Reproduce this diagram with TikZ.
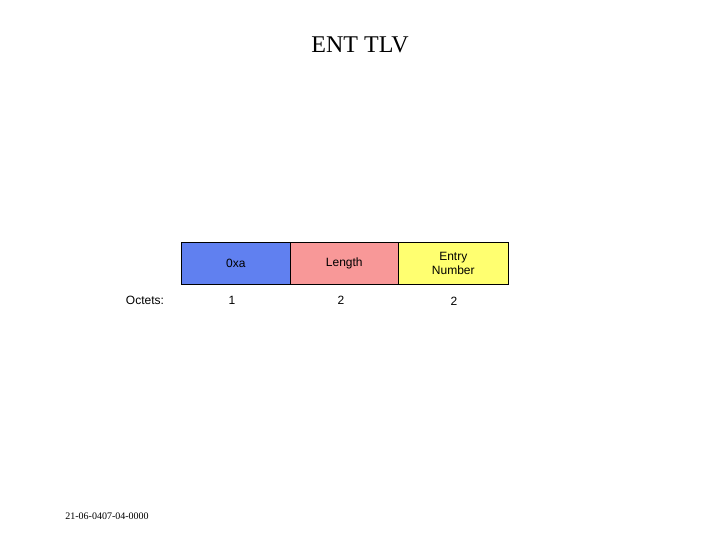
\documentclass[tikz,border=0pt]{standalone}
\usepackage{fontspec}
\setmainfont{Liberation Serif}
\newfontfamily\arial{Liberation Sans}
\begin{document}
\begin{tikzpicture}[x=1pt,y=-1pt,
 fld/.style={draw=black,line width=0.6pt,minimum height=42pt,anchor=north west,inner sep=0pt,font=\arial\fontsize{12}{14}\selectfont,align=center},
 lbl/.style={font=\arial\fontsize{12}{14}\selectfont}]
\useasboundingbox (0,0) rectangle (720,540);
\node[font=\fontsize{24}{28}\selectfont] (title) at (360,45) {ENT TLV};
\node[fld,fill={rgb,255:red,96;green,128;blue,240},minimum width=109pt] (a) at (181,242) {0xa};
\node[fld,fill={rgb,255:red,248;green,152;blue,152},minimum width=108pt] (b) at (290,242) {Length};
\node[fld,fill={rgb,255:red,255;green,255;blue,112},minimum width=110pt] (c) at (398,242) {Entry\\Number};
\node[lbl] (o) at (145,300) {Octets:};
\node[lbl] (o1) at (232,300) {1};
\node[lbl] (o2) at (341,300) {2};
\node[lbl] (o3) at (454,301) {2};
\node[font=\fontsize{10}{12}\selectfont] (id) at (107,516) {21-06-0407-04-0000};
\end{tikzpicture}
\end{document}
